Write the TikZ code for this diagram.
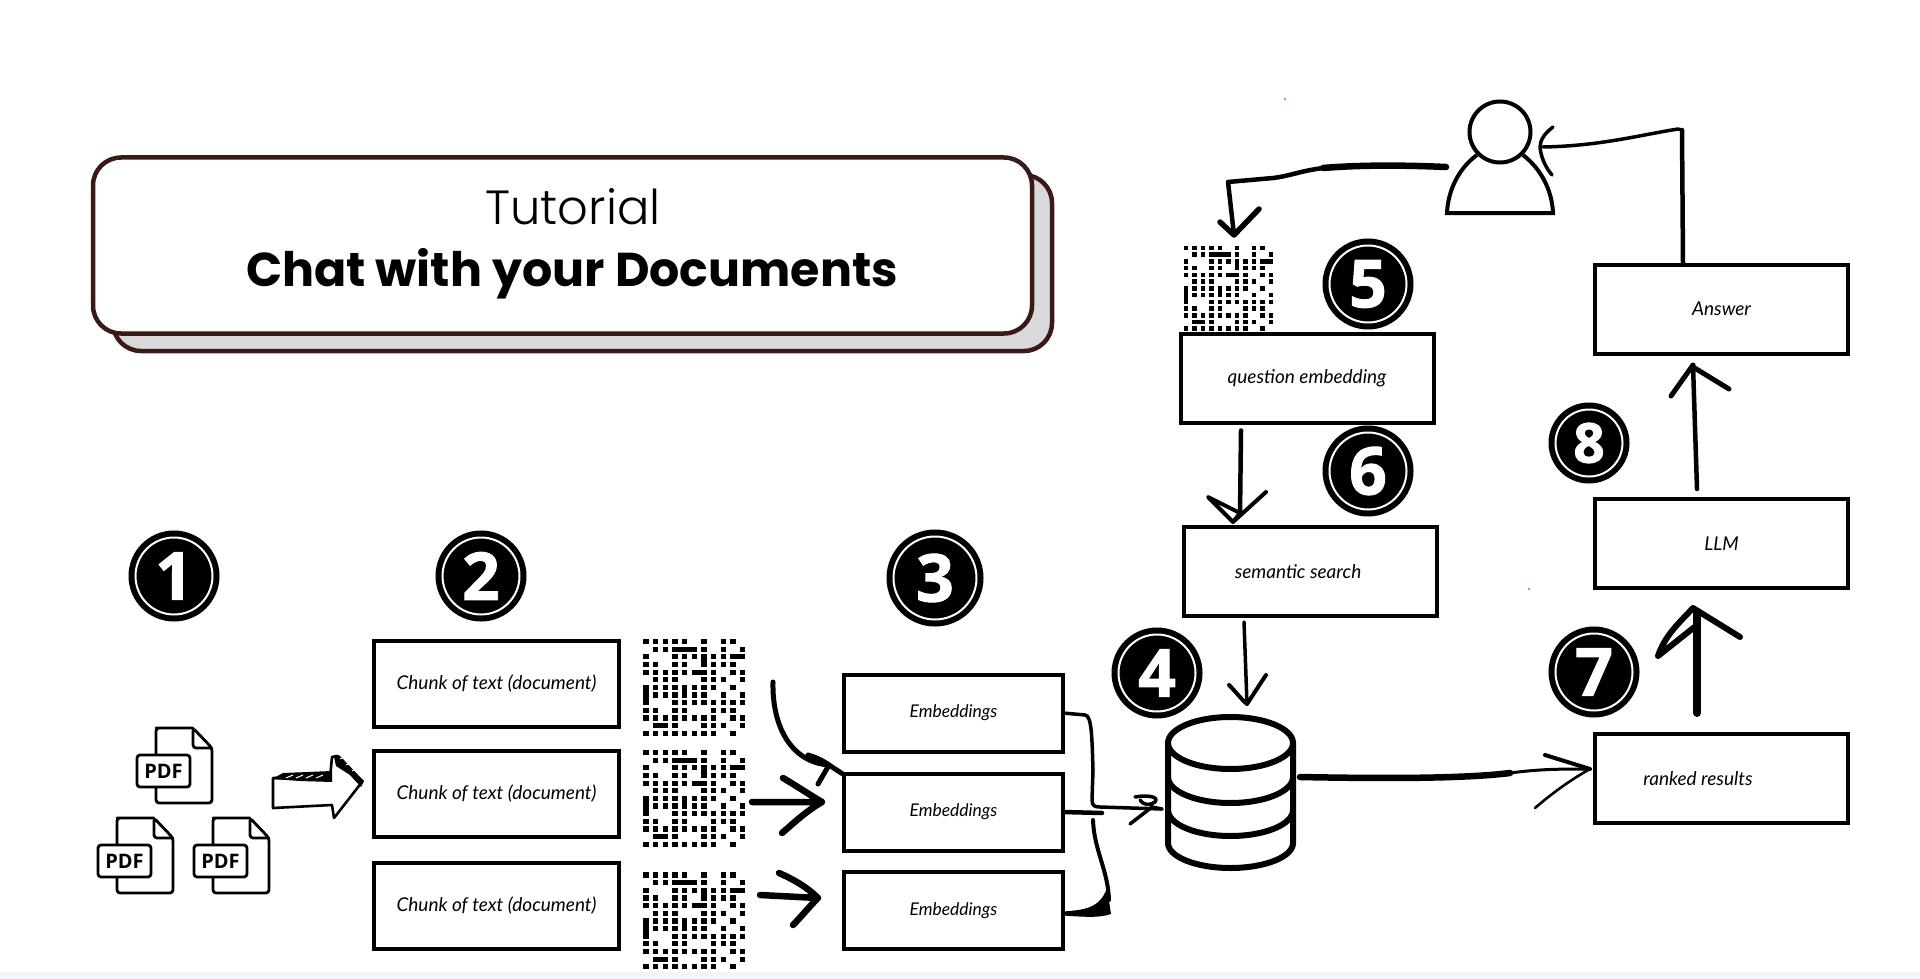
\documentclass[tikz,border=0pt]{standalone}
\usepackage{fontspec}
\setmainfont{Poppins}
\newfontfamily\thinfont{Poppins Light}
\newfontfamily\labelfont{Lato}
\newfontfamily\numfont{Open Sans}[BoldFeatures={FakeBold=1.5}]
\newfontfamily\pdffont{Open Sans}
\usetikzlibrary{positioning}
\definecolor{titlebrown}{HTML}{3A1A16}
\definecolor{shadowgray}{HTML}{D9D9DB}
\definecolor{stripblue}{HTML}{F4F5FB}
\definecolor{speck}{HTML}{35C6CF}
\tikzset{
  pen/.style={line width=#1,line cap=round,line join=round},
  stepbox/.style={draw,line width=4,inner sep=0,outer sep=0,minimum width=#1,font=\labelfont\itshape\fontsize{19}{19}\selectfont},
  chunkbox/.style={stepbox=245,minimum height=86},
  embbox/.style={stepbox=219,minimum height=77,font=\labelfont\itshape\fontsize{17.5}{17.5}\selectfont},
  sidebox/.style={stepbox=253,minimum height=89},
  boxtext/.style={font=\labelfont\itshape\fontsize{19}{19}\selectfont},
  titlebox/.style={draw=titlebrown,line width=4.5,rounded corners=28,inner sep=0,outer sep=0,minimum width=939,minimum height=176},
  numbadge/.style={circle,draw=black,fill=black,text=white,line width=6,double=white,double distance=2,
    inner sep=0,outer sep=0,minimum size=#1,font=\numfont\bfseries\fontsize{66}{66}\selectfont},
  pics/pdficon/.style={code={
    \draw[pen=2.8,rounded corners=3] (37,0) -- (3,0) -- (0,0) -- (0,75) -- (56,75) -- (56,20) -- (37,0) -- (37,20) -- (56,20);
    \draw[pen=2.8,fill=white,rounded corners=3] (-19,27) rectangle (34,59);
    \node[inner sep=0,font=\pdffont\bfseries\fontsize{20}{20}\selectfont] (-txt) at (7.5,43) {PDF};
  }},
  pics/dotgrid/.style={code={
    \begin{scope}[x=9.67pt,y=-7.65pt,line width=#1,line cap=rect]
      \foreach \r/\cols in {0/{0,1,2,3,4,6,8,9},1/{1,2,6,8,10},2/{0,3,4,5,7,8},3/{0,1,3,4,7,8,9},
        4/{0,1,2,3,4,7,9,10},5/{1,2,3,6,7,8,10},6/{1,2,3,5,6,7,9},7/{1,2,3,5,6,8,10},
        8/{3,4,5,6,7,8,9,10},9/{0,1,3,4,7,8,9},10/{0,1,2,3,4,5,6,7,9,10},11/{3,6,7,8,10},12/{0,1,2,3,4,5,6,7,9}}
        \foreach \c in \cols
          \draw (\c,\r) -- ++(0.01,0);
      \draw (3,1) -- (5,1) (9,2) -- (10,2) (6,2) -- (6,3) (5,4) -- (6,4);
      \draw (0,6) -- (0,8) (4,6) -- (4,7) (1,11) -- (2,11);
      \coordinate (-east) at (10.4,6);
    \end{scope}
  }},
}
\begin{document}
\begin{tikzpicture}[x=1pt,y=-1pt,node distance=100pt,on grid]
  \useasboundingbox (0,0) rectangle (1920,979);
  \fill[white] (0,0) rectangle (1920,979);
  \fill[stripblue] (0,972) rectangle (1920,979);
  \fill[speck] (1285,99) circle (1.3) (1529,589) circle (1.3);

  % title card
  \node[titlebox,fill=shadowgray] (shadow) at (582.5,263) {};
  \node[titlebox,fill=white] (title) at (562.5,245.5) {};
  \node[font=\thinfont\fontsize{48}{48}\selectfont] (tut) at (573,207) {Tutorial};
  \node[font=\bfseries\fontsize{47.5}{47.5}\selectfont] (chat) at (572,274) {Chat with your Documents};

  % number badges
  \node[numbadge=77] (n_1) at (174,576) {1};
  \node[numbadge=77] (n_2) at (481,576) {2};
  \node[numbadge=83] (n_3) at (935,578) {3};
  \node[numbadge=77] (n_4) at (1157,673) {4};
  \node[numbadge=77] (n_5) at (1368,284) {5};
  \node[numbadge=77] (n_6) at (1368,471) {6};
  \node[numbadge=77] (n_7) at (1594,672) {7};
  \node[numbadge=67,font=\numfont\bfseries\fontsize{55}{55}\selectfont] (n_8) at (1589,443) {8};

  % pdf icons
  \pic (pdf_1) at (156,728) {pdficon};
  \pic (pdf_2) at (117,818) {pdficon};
  \pic (pdf_3) at (213,818) {pdficon};

  % hollow arrow
  \draw[pen=2.6,fill=white] (273,778) -- (330,778) -- (332,757) -- (337,756) -- (362,782) -- (334,818) -- (332,805) -- (273,808) -- cycle;
  \fill (272,779) -- (283,773) -- (332,771) -- (332,782) -- (300,781) -- cycle;
  \fill (334,757) -- (339,755) -- (364,781) -- (361,787) -- (350,775) -- (336,766) -- cycle;
  \foreach \x in {286,296,306,316}
    \draw[white,line width=1] (\x,778) -- ++(7,-3);
  \foreach \x/\y in {340/759,346/765,352/771}
    \draw[white,line width=1] (\x,\y) -- ++(5,-2);

  % boxes
  \node[chunkbox] (doc_1) at (496.5,683.5) {Chunk of text (document)};
  \node[chunkbox,below=110pt of doc_1] (doc_2) {Chunk of text (document)};
  \node[chunkbox,below=112pt of doc_2] (doc_3) {Chunk of text (document)};
  \node[embbox] (emb_1) at (953.5,713) {Embeddings};
  \node[embbox,below=99pt of emb_1] (emb_2) {Embeddings};
  \node[embbox,below=98.5pt of emb_2] (emb_3) {Embeddings};
  \node[sidebox] (qbox) at (1307,378) {question embedding};
  \node[sidebox,label={[boxtext]center:\hspace{-24pt}semantic search}] (search) at (1310,571.5) {};
  \node[sidebox] (answer) at (1721.5,309) {Answer};
  \node[sidebox,below=234.5pt of answer] (llm) {LLM};
  \node[sidebox,below=235pt of llm,label={[boxtext]center:\hspace{-47pt}ranked results}] (ranked) {};

  % dot grids
  \pic (vec_1) at (646,641.5) {dotgrid=5.2};
  \pic (vec_2) at (646,752.5) {dotgrid=5.2};
  \pic (vec_3) at (646,875) {dotgrid=5.2};
  \pic[scale=.88] (vec_q) at (1186,248) {dotgrid=4.6};

  % user
  \node[circle,draw,line width=4,minimum size=61,inner sep=0,outer sep=0] (user) at (1500,132) {};
  \draw[line width=4] (1523,155) .. controls (1541,169) and (1552,190) .. (1553,213) -- (1447,213) .. controls (1448,190) and (1459,168) .. (1477,155);

  % database
  \node[minimum width=125,minimum height=152,inner sep=0,outer sep=0] (vdb) at (1230.5,793) {};
  \begin{scope}[line width=6]
    \draw (1230.5,743) ellipse [x radius=62.5,y radius=26];
    \draw (1168,743) -- (1168,843) arc [start angle=180,end angle=0,x radius=62.5,y radius=25] -- (1293,743);
    \draw (1168,777) arc [start angle=180,end angle=0,x radius=62.5,y radius=26];
    \draw (1168,810) arc [start angle=180,end angle=0,x radius=62.5,y radius=26];
  \end{scope}

  % free ends and tips
  \coordinate (s_1) at (773,682);
  \coordinate (t_1) at (829,765);
  \coordinate (s_2) at (752,802);
  \coordinate (t_2) at (822,802);
  \coordinate (s_3) at (760,895);
  \coordinate (t_3) at (818,898);
  \coordinate (t_4) at (1162,809);
  \coordinate (t_5) at (1234,235);
  \coordinate (t_6) at (1233,522);
  \coordinate (t_7) at (1247,704);
  \coordinate (t_8) at (1590,769);
  \coordinate (t_9) at (1693,608);
  \coordinate (t_10) at (1693,365);
  \coordinate (t_11) at (1543,147);

  % embedding arrows
  \draw[pen=5] (s_1) .. controls (772,725) and (790,762) .. (t_1) -- ([xshift=-2pt]emb_2.north west);
  \draw[pen=5] (808,755) .. controls (815,757) and (822,760) .. (t_1) -- (818,784);
  \draw[pen=6.5] (s_2) -- (t_2) (783,778) .. controls (795,785) and (810,795) .. (t_2) .. controls (805,812) and (795,822) .. (782,833);
  \draw[pen=6.5] (s_3) -- (t_3) (779,873) .. controls (795,880) and (808,888) .. (t_3) .. controls (808,908) and (800,918) .. (793,925);

  % merge into database
  \draw[pen=3.5] (emb_1.east) -- (1085,715) .. controls (1092,715) and (1092,740) .. (1093,770) -- (1092,800) .. controls (1092,806) and (1095,807) .. (1100,807) -- (t_4);
  \draw[pen=3.5] (1135,797) .. controls (1145,795) and (1160,796) .. (1155,802) .. controls (1150,806) and (1143,805) .. (1140,800) (t_4) -- (1152,807) -- (1130,824);
  \draw[pen=4.5] (emb_2.east) -- (1102,813);
  \draw[pen=4] (1093,820) .. controls (1094,850) and (1108,870) .. (1109,900);
  \fill ([shift={(0,1)}]emb_3.east) .. controls (1085,910) and (1100,908) .. (1107,888) -- (1111,914) .. controls (1100,918) and (1085,917) .. ([shift={(0,5)}]emb_3.east) -- cycle;

  % question path
  \draw[pen=6.5] (1446,167) .. controls (1400,165) and (1360,165) .. (1323,168);
  \draw[pen=4.5] (1323,168) .. controls (1300,171) and (1290,176) .. (1273,178) -- (1228,182) -- (t_5);
  \draw[pen=5.5] (1220,222) -- (t_5) -- (1259,209);
  \draw[pen=4.5] (qbox.south -| t_6) ++(8,8) -- ++(-1,84);
  \draw[pen=4] (1208,497) -- (1240,513) -- (t_6) -- cycle (t_6) -- (1266,492);
  \draw[pen=3.5] (search.south -| t_7) ++(-3,6) -- (t_7);
  \draw[pen=4] (1229,685) .. controls (1236,692) and (1242,700) .. (t_7) -- (1266,675);

  % to ranked results
  \draw[pen=6.5] (1300,777) .. controls (1400,779) and (1470,778) .. (1510,773);
  \draw[pen=3] (1510,773) .. controls (1540,769) and (1560,769) .. (t_8);
  \draw[pen=4] (1545,755) -- (t_8);
  \draw[pen=2.6] (t_8) .. controls (1570,780) and (1550,795) .. (1535,808);
  \draw[pen=8] ([shift={(-24.5,-21)}]ranked.north) -- (1697,612);
  \draw[pen=6] (1658,656) .. controls (1665,635) and (1680,622) .. (t_9) -- (1740,637) (1658,656) -- (1697,625);
  \draw[pen=4.5] ([shift={(-24.5,-10)}]llm.north) -- (t_10);
  \draw[pen=5] (1671,396) -- (t_10) (1693,367) -- (1729,389);
  \draw[pen=4.5] (answer.north -| 1683,0) -- (1682,130);
  \draw[pen=3.5] (1682,130) -- (1678,129) .. controls (1640,135) and (1600,146) .. (t_11);
  \draw[pen=3.5] (1553,127) .. controls (1545,133) and (1540,140) .. (1540,147) .. controls (1541,158) and (1546,168) .. (1552,175);
\end{tikzpicture}
\end{document}
